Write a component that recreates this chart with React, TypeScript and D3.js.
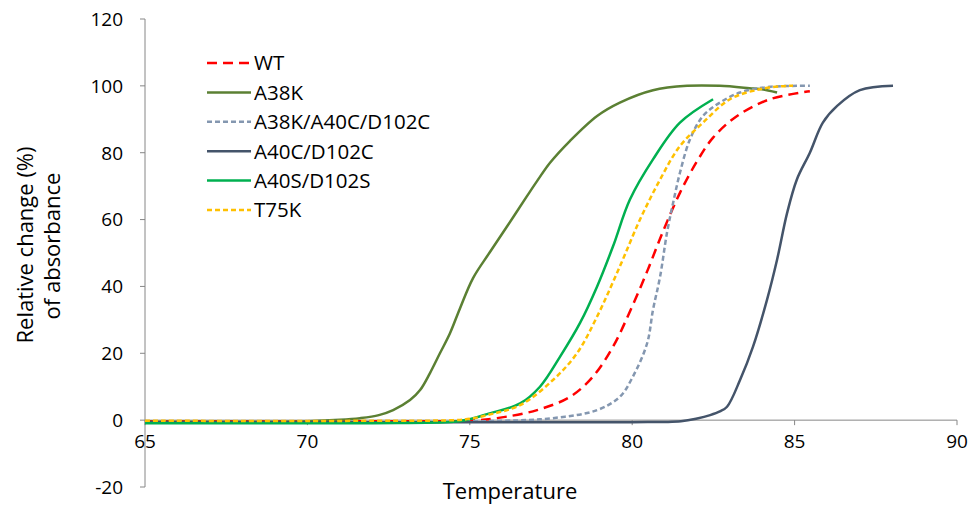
import React from "react";
import * as d3 from "d3";

const seriesNames = ["WT", "A38K", "A38K/A40C/D102C", "A40C/D102C", "A40S/D102S", "T75K"];
const seriesColors = ["#ff0000", "#5b8033", "#8497b0", "#44546a", "#00b050", "#ffc000"];
const seriesDash = ["10,6", "", "5,3", "", "", "5,3"];

const wtX = [65, 70, 74, 75.0, 75.84, 77.07, 78.09, 78.79, 79.41, 79.93, 80.46, 80.95, 81.47, 82.0, 82.49, 83.23, 84.24, 85.47];
const wtY = [-0.3, -0.3, -0.3, -0.2, 0.6, 3, 7, 13, 22, 32.5, 44.5, 56.5, 68, 77.5, 84.5, 91, 96, 98.4];

const a38kX = [65, 70, 71, 71.62, 72.2, 72.64, 73.16, 73.47, 73.77, 74.08, 74.39, 74.7, 75.1, 75.6, 76.15, 76.76, 77.07, 77.47, 78.08, 78.92, 79.62, 80.64, 81.69, 82.7, 83.72, 84.0, 84.46];
const a38kY = [-0.5, -0.3, 0.1, 0.6, 1.5, 3, 6, 9, 14, 20, 26, 33.5, 42.5, 50, 58, 67, 71.5, 77, 83.5, 91, 95, 98.7, 100, 100, 99.2, 99, 98];

const tripleX = [65, 72, 76, 77.56, 78.92, 79.62, 80.02, 80.46, 80.64, 80.86, 81.07, 81.26, 81.47, 81.78, 82.18, 82.7, 83.32, 84.24, 85.47];
const tripleY = [-0.3, -0.3, -0.2, 0.6, 3, 7, 13, 23, 33, 43, 56, 65, 74, 84, 91, 95, 98, 99.7, 100];

const a40cX = [65, 75, 80, 81.5, 82.0, 82.4, 82.7, 82.92, 83.32, 83.72, 84.15, 84.46, 84.77, 85.07, 85.47, 85.87, 86.31, 87.01, 88.03];
const a40cY = [-0.6, -0.6, -0.6, -0.3, 0.5, 1.5, 2.6, 4, 12, 22, 36, 48, 62, 72, 80, 89, 94, 98.7, 100];

const a40sX = [65, 72, 74.5, 75.0, 75.53, 76.55, 77.16, 77.78, 78.39, 78.92, 79.41, 79.93, 80.64, 81.47, 82.49];
const a40sY = [-0.9, -0.9, -0.5, 0.3, 1.8, 5, 10, 19, 29, 40, 52, 66, 78, 89, 96];

const t75kX = [65, 72, 74.5, 75.0, 75.53, 76.55, 77.56, 78.3, 78.92, 79.62, 80.24, 80.86, 81.47, 82.18, 83.01, 83.93, 84.77, 84.95];
const t75kY = [-0.2, -0.2, 0, 0.4, 1.5, 4.5, 12, 20, 31, 46, 60, 72, 82, 89, 96, 99, 100, 100];

const seriesXs = [wtX, a38kX, tripleX, a40cX, a40sX, t75kX];
const seriesYs = [wtY, a38kY, tripleY, a40cY, a40sY, t75kY];

const xTicks = [65, 70, 75, 80, 85, 90];
const yTicks = [-20, 0, 20, 40, 60, 80, 100, 120];

const FONT = "'Open Sans', Lato, sans-serif";

export default function App() {
  const width = 969;
  const height = 508;
  const x = d3.scaleLinear().domain([65, 90]).range([145, 957]);
  const y = d3.scaleLinear().domain([-20, 120]).range([487, 19]);
  const line = d3
    .line<[number, number]>()
    .x((d) => x(d[0]))
    .y((d) => y(d[1]))
    .curve(d3.curveCatmullRom.alpha(0.5));
  const axisColor = "#868686";

  return (
    <svg width={width} height={height} style={{ position: "absolute", left: 0, top: 0, background: "#fff" }} fontFamily={FONT}>
      <rect width={width} height={height} fill="#fff" />
      {/* y axis */}
      <line x1={x(65)} x2={x(65)} y1={y(-20)} y2={y(120)} stroke={axisColor} strokeWidth={1} />
      {yTicks.map((t) => (
        <g key={"y" + t}>
          <line x1={x(65) - 5} x2={x(65)} y1={y(t)} y2={y(t)} stroke={axisColor} />
          <text x={123} y={y(t) + 6.8} textAnchor="end" fontSize={19} fill="#000">
            {t}
          </text>
        </g>
      ))}
      {/* x axis at 0 */}
      <line x1={x(65)} x2={x(90)} y1={y(0)} y2={y(0)} stroke={axisColor} strokeWidth={1} />
      {xTicks.map((t) => (
        <g key={"x" + t}>
          <line x1={x(t)} x2={x(t)} y1={y(0)} y2={y(0) + 5} stroke={axisColor} />
          <text x={x(t)} y={y(0) + 28} textAnchor="middle" fontSize={19} fill="#000">
            {t}
          </text>
        </g>
      ))}
      {/* series */}
      {seriesNames.map((name, i) => {
        const pts = seriesXs[i].map((v, j) => [v, seriesYs[i][j]] as [number, number]);
        return (
          <path
            key={name}
            d={line(pts) || ""}
            fill="none"
            stroke={seriesColors[i]}
            strokeWidth={2.5}
            strokeDasharray={seriesDash[i] || undefined}
          />
        );
      })}
      {/* legend */}
      {seriesNames.map((name, i) => {
        const ly = 63 + i * 29.4;
        return (
          <g key={"lg" + name}>
            <line x1={207} x2={251} y1={ly} y2={ly} stroke={seriesColors[i]} strokeWidth={2.5} strokeDasharray={seriesDash[i] || undefined} />
            <text x={254} y={ly + 7.3} fontSize={20.5} fill="#000">
              {name}
            </text>
          </g>
        );
      })}
      {/* axis titles */}
      <text x={510} y={499} textAnchor="middle" fontSize={22} fill="#000">
        Temperature
      </text>
      <text transform={`translate(33,245) rotate(-90)`} textAnchor="middle" fontSize={22} fill="#000">
        Relative change (%)
      </text>
      <text transform={`translate(60,246) rotate(-90)`} textAnchor="middle" fontSize={22} fill="#000">
        of absorbance
      </text>
    </svg>
  );
}
